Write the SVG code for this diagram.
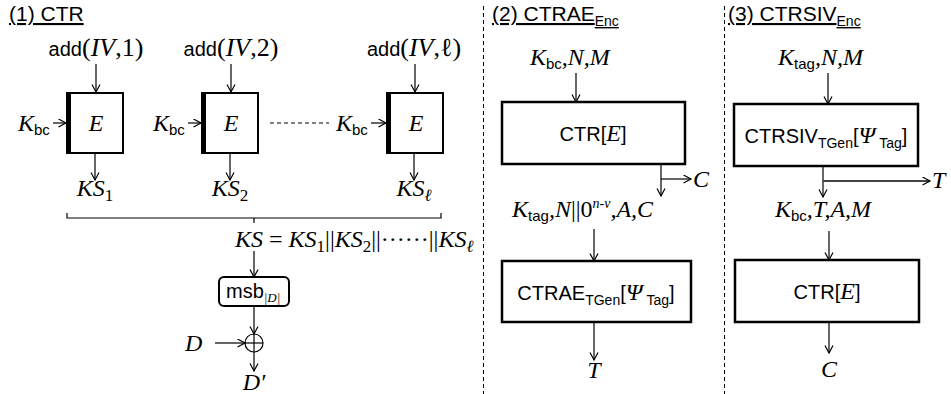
<svg xmlns="http://www.w3.org/2000/svg" width="951" height="394" viewBox="0 0 951 394">
  <style>
    text { fill: #000; }
    .sn { font-family: "Liberation Sans", Arial, sans-serif; font-size: 20px; }
    .tt { font-family: "Liberation Sans", Arial, sans-serif; font-size: 21px; text-decoration: underline; }
    .m { font-family: "Liberation Serif", "Times New Roman", serif; font-style: italic; font-size: 24px; }
    .r { font-family: "Liberation Serif", "Times New Roman", serif; font-style: normal; }
    .it { font-family: "Liberation Serif", "Times New Roman", serif; font-style: italic; }
    .s { font-family: "Liberation Sans", Arial, sans-serif; font-style: normal; font-size: 15px; }
    .ss { font-family: "Liberation Sans", Arial, sans-serif; font-style: normal; font-size: 14px; }
    .box { fill: #fff; stroke: #000; stroke-width: 2.5; }
    .eb { fill: #fff; stroke: #000; stroke-width: 2; }
    .ln { fill: none; stroke: #000; stroke-width: 1.2; }
    .arr { fill: none; stroke: #000; stroke-width: 1.2; marker-end: url(#ah); }
    .dash { fill: none; stroke: #000; stroke-width: 1; stroke-dasharray: 4 3; }
  </style>
  <defs>
    <marker id="ah" markerWidth="10" markerHeight="10" refX="8" refY="4.5" orient="auto" markerUnits="userSpaceOnUse">
      <path d="M0.5,0.5 L8,4.5 L0.5,8.5" fill="none" stroke="#000" stroke-width="1.2"/>
    </marker>
  </defs>

  <!-- panel separators -->
  <line class="dash" x1="483.5" y1="6" x2="483.5" y2="394"/>
  <line class="dash" x1="724.5" y1="6" x2="724.5" y2="394"/>

  <!-- panel titles -->
  <text class="tt" x="9" y="21">(1) CTR</text>
  <text class="tt" x="492" y="21">(2) CTRAE<tspan class="ss" dy="5">Enc</tspan></text>
  <text class="tt" x="728" y="21">(3) CTRSIV<tspan class="ss" dy="5">Enc</tspan></text>

  <!-- (1) CTR: block cipher calls -->
  <g id="e1">
    <rect class="eb" x="67" y="93" width="56" height="60"/>
    <rect x="66" y="92" width="5" height="62" fill="#000"/>
    <text class="m" x="96" y="131" text-anchor="middle">E</text>
  </g>
  <g id="e2">
    <rect class="eb" x="202" y="93" width="56" height="60"/>
    <rect x="201" y="92" width="5" height="62" fill="#000"/>
    <text class="m" x="231" y="131" text-anchor="middle">E</text>
  </g>
  <g id="e3">
    <rect class="eb" x="387" y="93" width="56" height="60"/>
    <rect x="386" y="92" width="5" height="62" fill="#000"/>
    <text class="m" x="416" y="131" text-anchor="middle">E</text>
  </g>
  <g id="msb">
    <rect x="219" y="277" width="70" height="29" rx="5" fill="#fff" stroke="#000" stroke-width="2"/>
    <text class="sn" x="226" y="298">msb<tspan class="it" font-size="13" dy="4">|D|</tspan></text>
  </g>
  <g id="xor">
    <circle cx="254" cy="343" r="9" fill="none" stroke="#000" stroke-width="1.2"/>
    <line class="ln" x1="245" y1="343" x2="263" y2="343"/>
    <line class="ln" x1="254" y1="334" x2="254" y2="352"/>
  </g>

  <!-- (1) labels -->
  <text class="sn" x="96" y="56" text-anchor="middle">add<tspan class="r" font-size="26">(</tspan><tspan class="it" font-size="26">IV</tspan><tspan class="r" font-size="26">,1)</tspan></text>
  <text class="sn" x="231" y="56" text-anchor="middle">add<tspan class="r" font-size="26">(</tspan><tspan class="it" font-size="26">IV</tspan><tspan class="r" font-size="26">,2)</tspan></text>
  <text class="sn" x="414" y="56" text-anchor="middle">add<tspan class="r" font-size="26">(</tspan><tspan class="it" font-size="26">IV</tspan><tspan class="r" font-size="26">,ℓ)</tspan></text>
  <text class="m" x="18" y="131">K<tspan class="s" dy="4">bc</tspan></text>
  <text class="m" x="153" y="131">K<tspan class="s" dy="4">bc</tspan></text>
  <text class="m" x="336" y="131">K<tspan class="s" dy="4">bc</tspan></text>
  <text class="m" x="95" y="196" text-anchor="middle">KS<tspan class="r" font-size="17" dy="5">1</tspan></text>
  <text class="m" x="230" y="196" text-anchor="middle">KS<tspan class="r" font-size="17" dy="5">2</tspan></text>
  <text class="m" x="414" y="196" text-anchor="middle">KS<tspan font-size="17" dy="5">ℓ</tspan></text>
  <text class="m" x="235" y="247">KS <tspan class="r">=</tspan> KS<tspan class="r" font-size="17" dy="5">1</tspan><tspan class="r" dy="-5">||</tspan>KS<tspan class="r" font-size="17" dy="5">2</tspan><tspan class="r" dy="-5">||······||</tspan>KS<tspan font-size="17" dy="5">ℓ</tspan></text>
  <text class="m" x="185" y="351">D</text>
  <text class="m" x="254" y="390" text-anchor="middle">D′</text>

  <!-- (2) CTRAE nodes -->
  <g id="ctr2">
    <rect class="box" x="502" y="102" width="183" height="62"/>
    <text class="sn" x="593" y="141" text-anchor="middle">CTR[<tspan class="it" font-size="24">E</tspan>]</text>
  </g>
  <g id="ctrae">
    <rect class="box" x="502" y="261" width="189" height="61"/>
    <text class="sn" x="596" y="300" text-anchor="middle">CTRAE<tspan class="ss" dy="5">TGen</tspan><tspan dy="-5">[</tspan><tspan class="it" font-size="24">Ψ</tspan><tspan class="ss" dy="5"> Tag</tspan><tspan dy="-5">]</tspan></text>
  </g>
  <text class="m" x="530" y="65">K<tspan class="s" dy="4">bc</tspan><tspan dy="-4">,N,M</tspan></text>
  <text class="m" x="512" y="217">K<tspan class="s" dy="4">tag</tspan><tspan dy="-4">,N</tspan><tspan class="r">||0</tspan><tspan font-size="14" dy="-9">n-ν</tspan><tspan dy="9">,A,C</tspan></text>
  <text class="m" x="693" y="187">C</text>
  <text class="m" x="594" y="378" text-anchor="middle">T</text>

  <!-- (3) CTRSIV nodes -->
  <g id="ctrsiv">
    <rect class="box" x="734" y="104" width="184" height="62"/>
    <text class="sn" x="826" y="143" text-anchor="middle">CTRSIV<tspan class="ss" dy="5">TGen</tspan><tspan dy="-5">[</tspan><tspan class="it" font-size="24">Ψ</tspan><tspan class="ss" dy="5"> Tag</tspan><tspan dy="-5">]</tspan></text>
  </g>
  <g id="ctr3">
    <rect class="box" x="735" y="260" width="184" height="62"/>
    <text class="sn" x="827" y="299" text-anchor="middle">CTR[<tspan class="it" font-size="24">E</tspan>]</text>
  </g>
  <text class="m" x="778" y="65">K<tspan class="s" dy="4">tag</tspan><tspan dy="-4">,N,M</tspan></text>
  <text class="m" x="775" y="217">K<tspan class="s" dy="4">bc</tspan><tspan dy="-4">,T,A,M</tspan></text>
  <text class="m" x="932" y="188">T</text>
  <text class="m" x="829" y="377" text-anchor="middle">C</text>

  <!-- connectors -->
  <g id="connectors">
    <path class="arr" d="M96,64 V92"/>
    <path class="arr" d="M231,64 V92"/>
    <path class="arr" d="M415,64 V92"/>
    <path class="arr" d="M53,123 H66"/>
    <path class="arr" d="M188,123 H201"/>
    <path class="arr" d="M371,123 H386"/>
    <path class="dash" d="M270,123 H329"/>
    <path class="arr" d="M95,154 V180"/>
    <path class="arr" d="M230,154 V180"/>
    <path class="arr" d="M414,154 V180"/>
    <path class="ln" d="M67,213 V218 H441 V213 M254,218 V223"/>
    <path class="arr" d="M254,251 V277"/>
    <path class="arr" d="M254,306 V334"/>
    <path class="arr" d="M215,343 H245"/>
    <path class="arr" d="M254,352 V371"/>

    <path class="arr" d="M576,73 V102"/>
    <path class="arr" d="M661,165 V196"/>
    <path class="arr" d="M661,179 H691"/>
    <path class="arr" d="M594,229 V261"/>
    <path class="arr" d="M594,323 V360"/>

    <path class="arr" d="M828,73 V104"/>
    <path class="arr" d="M823,167 V197"/>
    <path d="M823,181 H930" fill="none" stroke="#444" stroke-width="2" marker-end="url(#ah)"/>
    <path class="arr" d="M829,231 V260"/>
    <path class="arr" d="M829,323 V353"/>
  </g>
</svg>
